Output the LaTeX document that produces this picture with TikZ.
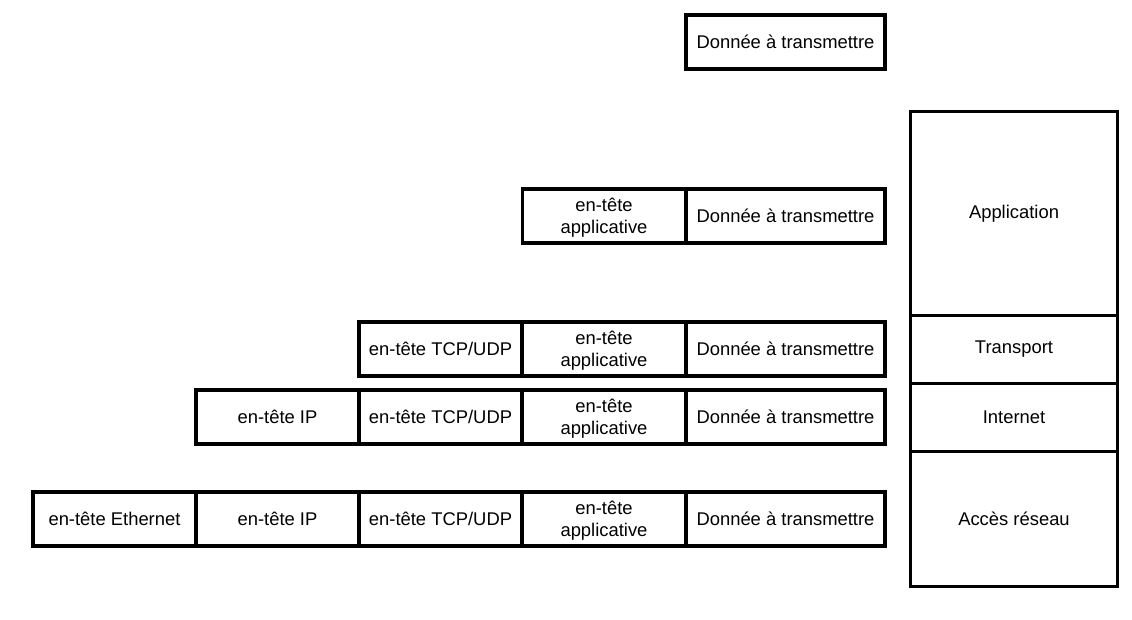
\documentclass[tikz,border=0pt]{standalone}
\usepackage{fontspec}
\setmainfont{Liberation Sans}
\begin{document}
\begin{tikzpicture}[x=1pt,y=-1pt,
  cell/.style={draw=black,line width=3.2pt,rectangle,minimum width=163pt,minimum height=54pt,inner sep=0pt,align=center,font=\fontsize{18.4}{22}\selectfont},
  data/.style={cell,minimum width=199pt},
  layer/.style={draw=black,line width=3.2pt,rectangle,minimum width=207pt,inner sep=0pt,font=\fontsize{18.4}{22}\selectfont}]
\useasboundingbox (0,0) rectangle (1132,620);
% row 1
\node[data] (d1) at (785.5,42) {Donnée à transmettre};
% row 2
\node[cell] (a2) at (604,216) {\rule{0pt}{16pt}en-tête\\applicative};
\node[data] (d2) at (785.5,216) {Donnée à transmettre};
% row 3
\node[cell] (t3) at (440.5,349) {en-tête TCP/UDP};
\node[cell] (a3) at (604,349) {\rule{0pt}{16pt}en-tête\\applicative};
\node[data] (d3) at (785.5,349) {Donnée à transmettre};
% row 4
\node[cell] (i4) at (277.5,417) {en-tête IP};
\node[cell] (t4) at (440.5,417) {en-tête TCP/UDP};
\node[cell] (a4) at (604,417) {\rule{0pt}{16pt}en-tête\\applicative};
\node[data] (d4) at (785.5,417) {Donnée à transmettre};
% row 5
\node[cell] (e5) at (114.5,519) {en-tête Ethernet};
\node[cell] (i5) at (277.5,519) {en-tête IP};
\node[cell] (t5) at (440.5,519) {en-tête TCP/UDP};
\node[cell] (a5) at (604,519) {\rule{0pt}{16pt}en-tête\\applicative};
\node[data] (d5) at (785.5,519) {Donnée à transmettre};
% layers
\node[layer,minimum height=204pt] (app) at (1014,213.5) {Application};
\node[layer,minimum height=68pt] (tra) at (1014,349.5) {Transport};
\node[layer,minimum height=68pt] (int) at (1014,417.5) {Internet};
\node[layer,minimum height=135pt] (acc) at (1014,519) {Accès réseau};
\end{tikzpicture}
\end{document}
